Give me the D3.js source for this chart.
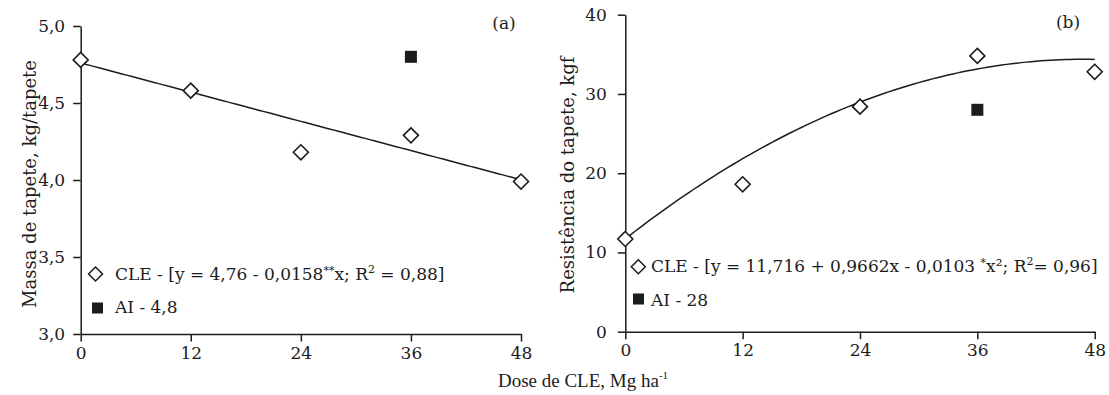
<!DOCTYPE html>
<html>
<head>
<meta charset="utf-8">
<script src="https://cdn.jsdelivr.net/npm/d3@7"></script>
<style>
  html, body { margin: 0; padding: 0; background: #fff; }
  svg { display: block; }
</style>
</head>
<body>
<svg id="chart" width="1109" height="395"></svg>
<script>
// Doses of CLE (Mg/ha) shared by both panels
const doses = [0, 12, 24, 36, 48];
const doseTickLabels = ["0", "12", "24", "36", "48"];

// Panel (a): mat mass, kg/mat
const massaCLE = [4.78, 4.58, 4.18, 4.29, 3.99];
const aiDose = [36];
const massaAI = [4.8];
const massaFit = [4.76, -0.0158];            // y = a + b x
const massaTicks = [3.0, 3.5, 4.0, 4.5, 5.0];
const massaTickLabels = ["3,0", "3,5", "4,0", "4,5", "5,0"];

// Panel (b): mat resistance, kgf
const resistCLE = [11.7, 18.6, 28.4, 34.8, 32.8];
const resistAI = [28];
const resistFit = [11.716, 0.9662, -0.0103]; // y = a + b x + c x^2
const resistTicks = [0, 10, 20, 30, 40];
const resistTickLabels = ["0", "10", "20", "30", "40"];

const INK = "#1c1c1c";
const SERIF = "'DejaVu Serif', serif";
const FS = 17;
const svg = d3.select("#chart");

function poly(coefs, x) {
  return coefs.reduce((s, c, i) => s + c * Math.pow(x, i), 0);
}

function diamondPath(r) {
  return `M0,${-r}L${r},0L0,${r}L${-r},0Z`;
}

function panel(cfg) {
  const g = svg.append("g");
  const x = d3.scaleLinear().domain([0, 48]).range(cfg.xRange);
  const y = d3.scaleLinear().domain(cfg.yDomain).range(cfg.yRange);

  const yAxis = d3.axisLeft(y)
    .tickValues(cfg.yTicks)
    .tickFormat((d, i) => cfg.yTickLabels[i])
    .tickSize(7.5).tickSizeOuter(0).tickPadding(cfg.yPad);
  const xAxis = d3.axisBottom(x)
    .tickValues(doses)
    .tickFormat((d, i) => doseTickLabels[i])
    .tickSize(7.5).tickSizeOuter(0).tickPadding(5);

  const gy = g.append("g").attr("transform", `translate(${cfg.xRange[0]},0)`).call(yAxis);
  const gx = g.append("g").attr("transform", `translate(0,${cfg.yRange[0]})`).call(xAxis);
  [gx, gy].forEach(a => {
    a.selectAll("path, line").attr("stroke", INK).attr("stroke-width", 1.5);
    a.selectAll("text").attr("fill", INK).style("font-family", SERIF).style("font-size", FS + "px");
  });

  // fitted regression curve
  const fitPts = d3.range(0, 48.01, 0.5).map(v => [v, poly(cfg.fit, v)]);
  g.append("path")
    .attr("d", d3.line().x(d => x(d[0])).y(d => y(d[1]))(fitPts))
    .attr("fill", "none").attr("stroke", INK).attr("stroke-width", 1.5);

  // AI reference points
  g.selectAll(".ai").data(aiDose.map((d, i) => [d, cfg.ai[i]])).enter()
    .append("rect")
    .attr("x", d => x(d[0]) - 6).attr("y", d => y(d[1]) - 6)
    .attr("width", 12).attr("height", 12).attr("fill", INK);

  // CLE observed points
  g.selectAll(".cle").data(doses.map((d, i) => [d, cfg.cle[i]])).enter()
    .append("path")
    .attr("d", diamondPath(7.5))
    .attr("transform", d => `translate(${x(d[0])},${y(d[1])})`)
    .attr("fill", "#fff").attr("stroke", INK).attr("stroke-width", 1.6);

  // panel tag
  g.append("text").attr("x", cfg.tag[0]).attr("y", cfg.tag[1])
    .attr("text-anchor", "middle").attr("fill", INK)
    .style("font-family", SERIF).style("font-size", FS + "px").text(cfg.tagText);

  // y axis title
  g.append("text")
    .attr("transform", `translate(${cfg.yTitle[0]},${cfg.yTitle[1]}) rotate(-90)`)
    .attr("text-anchor", "middle").attr("dy", "0.35em").attr("fill", INK)
    .style("font-family", SERIF).style("font-size", "18px").text(cfg.yTitleText);

  // legend
  const L = cfg.legend;
  g.append("path").attr("d", diamondPath(7))
    .attr("transform", `translate(${L.d[0]},${L.d[1]})`)
    .attr("fill", "#fff").attr("stroke", INK).attr("stroke-width", 1.5);
  g.append("rect").attr("x", L.s[0] - 5.5).attr("y", L.s[1] - 5.5)
    .attr("width", 11).attr("height", 11).attr("fill", INK);

  const t1 = g.append("text").attr("x", L.t1[0]).attr("y", L.t1[1]).attr("fill", INK)
    .style("font-family", SERIF).style("font-size", FS + "px");
  L.parts.forEach(p => {
    const ts = t1.append("tspan").text(p.t);
    if (p.sup) ts.attr("dy", p.sup).style("font-size", p.fs || "11px");
  });
  g.append("text").attr("x", L.t2[0]).attr("y", L.t2[1]).attr("fill", INK)
    .style("font-family", SERIF).style("font-size", FS + "px").text(L.aiText);
}

panel({
  xRange: [80.7, 521], yDomain: [3, 5], yRange: [334, 26],
  yTicks: massaTicks, yTickLabels: massaTickLabels, yPad: 8,
  fit: massaFit, cle: massaCLE, ai: massaAI,
  tag: [504, 29], tagText: "(a)",
  yTitle: [30, 184], yTitleText: "Massa de tapete, kg/tapete",
  legend: {
    d: [95.5, 274], s: [97.5, 308], t1: [115, 280], t2: [115, 313],
    parts: [
      { t: "CLE - [y = 4,76 - 0,0158" },
      { t: "**", sup: -6 },
      { t: "x; R", sup: 6, fs: FS + "px" },
      { t: "2", sup: -7 },
      { t: " = 0,88]", sup: 7, fs: FS + "px" }
    ],
    aiText: "AI - 4,8"
  }
});

panel({
  xRange: [625.3, 1094.7], yDomain: [0, 40], yRange: [331.7, 14.7],
  yTicks: resistTicks, yTickLabels: resistTickLabels, yPad: 11,
  fit: resistFit, cle: resistCLE, ai: resistAI,
  tag: [1068, 28], tagText: "(b)",
  yTitle: [568, 175], yTitleText: "Resistência do tapete, kgf",
  legend: {
    d: [638.3, 266.7], s: [638.5, 299], t1: [651, 272], t2: [651, 306],
    parts: [
      { t: "CLE - [y = 11,716 + 0,9662x - 0,0103 " },
      { t: "*", sup: -6 },
      { t: "x²; R", sup: 6, fs: FS + "px" },
      { t: "2", sup: -7 },
      { t: "= 0,96]", sup: 7, fs: FS + "px" }
    ],
    aiText: "AI - 28"
  }
});

// shared x axis title
const xt = svg.append("text").attr("x", 583).attr("y", 387).attr("text-anchor", "middle")
  .attr("fill", INK).style("font-family", "'Liberation Serif', serif").style("font-size", "19px");
xt.append("tspan").text("Dose de CLE, Mg ha");
xt.append("tspan").attr("dy", -8).style("font-size", "11px").text("-1");
</script>
</body>
</html>
